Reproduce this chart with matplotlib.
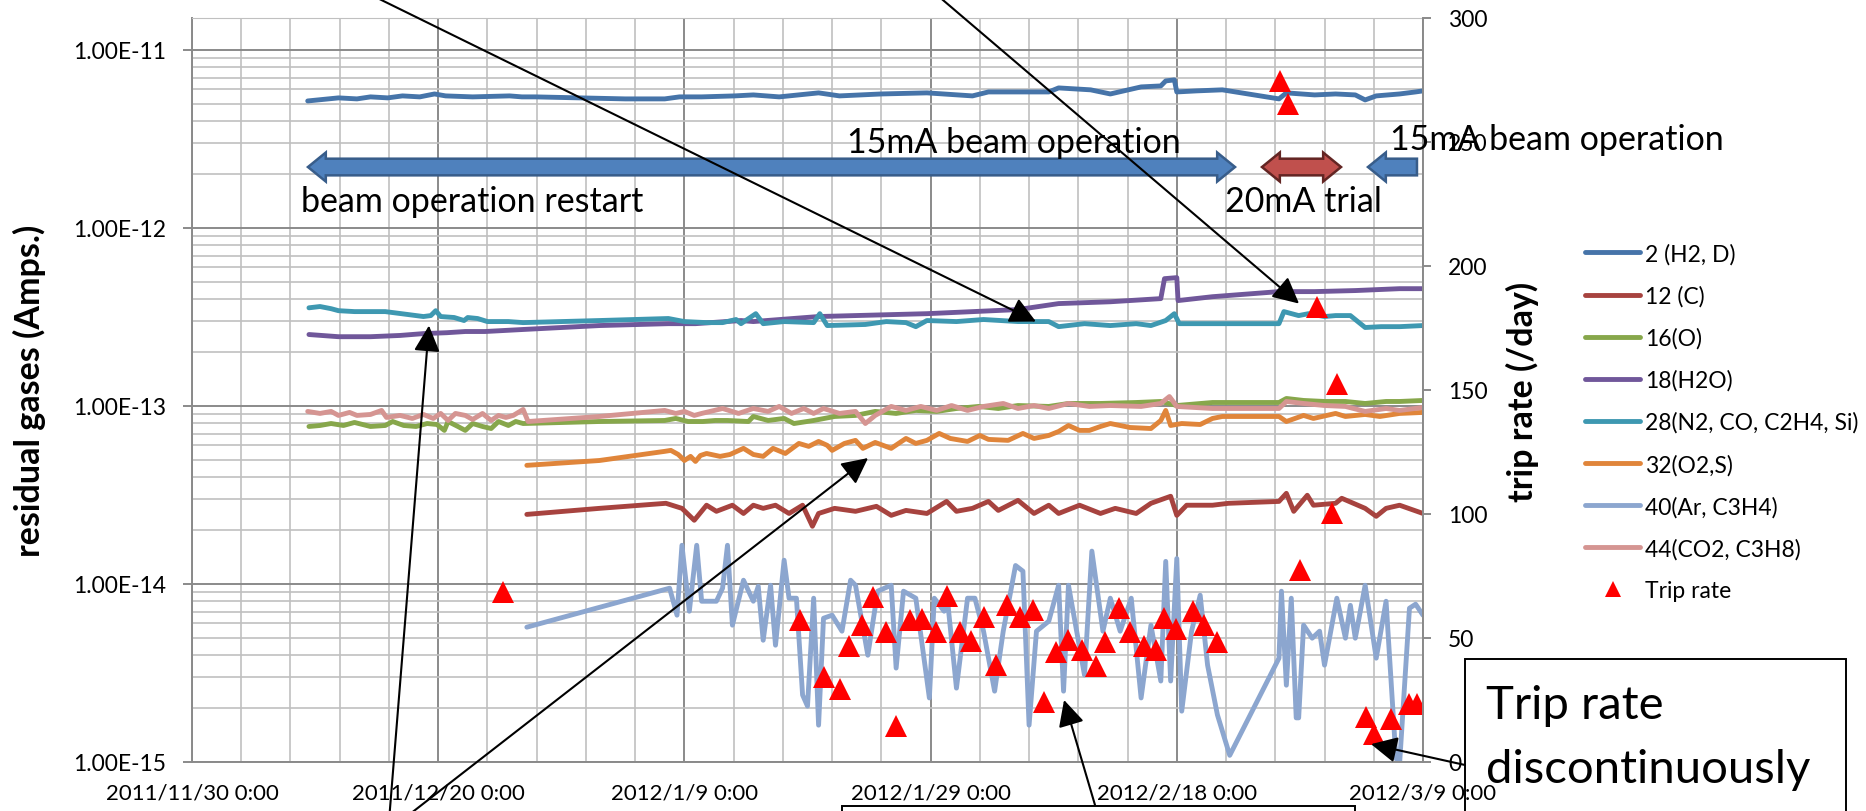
import datetime

import matplotlib
matplotlib.use("Agg")
import matplotlib.pyplot as plt
import matplotlib.dates as mdates
import matplotlib.ticker as ticker
import numpy as np
from matplotlib.lines import Line2D
from matplotlib.patches import Polygon, Rectangle

plt.rcParams['font.family'] = ['Lato', 'DejaVu Sans']

START = datetime.datetime(2011, 11, 30)

# residual gas currents, days counted from 2011/11/30 0:00
h2_days = [9.4, 11.9, 13.4, 14.5, 15.9, 17.1, 18.5, 19.7, 20.6, 22.8, 25.8, 26.8, 27.9, 31.5, 35.2, 38.4,
           39.6, 41.4, 44.1, 45.6, 47.7, 50.9, 52.6, 56.0, 59.7, 63.4, 64.7, 69.6, 70.4, 73.0, 74.6, 77.1,
           78.7, 79.1, 79.8, 80.0, 81.6, 83.7, 88.3, 88.9, 91.2, 92.9, 94.5, 95.3, 96.2, 98.1, 99.4, 100.0]
h2_pa = [5.17, 5.38, 5.31, 5.45, 5.38, 5.52, 5.45, 5.66, 5.52, 5.45, 5.52, 5.45, 5.45, 5.38, 5.31, 5.31,
         5.45, 5.45, 5.52, 5.59, 5.45, 5.74, 5.52, 5.66, 5.74, 5.52, 5.81, 5.81, 6.12, 5.97, 5.66, 6.20,
         6.28, 6.70, 6.79, 5.81, 5.89, 5.97, 5.31, 5.74, 5.59, 5.66, 5.59, 5.24, 5.52, 5.66, 5.81, 5.89]  # 1e-12 A

c_days = [27.2, 33.1, 38.5, 39.8, 40.8, 41.8, 42.6, 43.9, 44.8, 45.6, 46.4, 47.4, 48.5, 49.6, 50.4, 50.9,
          52.2, 53.9, 55.6, 56.8, 58.0, 59.7, 61.3, 62.1, 63.4, 64.7, 65.5, 67.1, 68.4, 69.6, 70.4, 72.1,
          73.8, 75.0, 76.7, 77.9, 79.5, 80.0, 80.8, 82.9, 84.2, 88.3, 88.9, 89.5, 90.6, 91.1, 92.9, 93.4,
          95.3, 96.2, 97.0, 98.1, 100.0]
c_vals = [2.46, 2.66, 2.84, 2.66, 2.28, 2.77, 2.56, 2.77, 2.49, 2.77, 2.66, 2.77, 2.49, 2.77, 2.11, 2.49,
          2.66, 2.56, 2.73, 2.43, 2.59, 2.49, 2.91, 2.56, 2.66, 2.91, 2.59, 2.95, 2.49, 2.77, 2.49, 2.77,
          2.49, 2.66, 2.49, 2.84, 3.11, 2.43, 2.77, 2.77, 2.84, 2.91, 3.23, 2.56, 3.15, 2.77, 2.84, 3.03,
          2.66, 2.40, 2.66, 2.77, 2.49]  # 1e-14 A

o_days = [9.5, 10.4, 11.3, 12.3, 13.2, 14.5, 15.7, 16.3, 17.2, 18.2, 19.1, 19.9, 20.5, 20.8, 21.6, 22.2,
          22.8, 23.6, 24.3, 24.9, 25.7, 26.3, 26.9, 33.1, 38.4, 39.3, 40.3, 41.5, 42.5, 43.5, 45.2, 45.6,
          46.8, 48.1, 48.9, 50.5, 52.2, 53.9, 55.5, 57.2, 58.8, 60.5, 62.1, 63.9, 65.5, 67.1, 69.6, 71.2,
          73.8, 76.7, 78.7, 80.0, 82.9, 88.3, 88.9, 90.3, 92.0, 93.7, 95.3, 97.0, 98.1, 100.0]
o_vals = [7.67, 7.77, 7.97, 7.77, 8.08, 7.67, 7.77, 8.18, 7.77, 7.67, 7.97, 7.87, 7.29, 8.18, 7.67, 7.29,
          7.97, 7.67, 7.47, 8.18, 7.77, 8.18, 7.97, 8.18, 8.29, 8.51, 8.18, 8.18, 8.29, 8.29, 8.18, 8.73,
          8.29, 8.51, 7.97, 8.29, 8.73, 8.85, 9.32, 9.08, 9.44, 9.32, 9.68, 9.94, 9.68, 10.06, 9.94, 10.33,
          10.33, 10.46, 10.60, 10.06, 10.46, 10.46, 11.02, 10.74, 10.60, 10.60, 10.33, 10.60, 10.60, 10.74]  # 1e-14 A

h2o_days = [9.5, 11.9, 14.5, 16.9, 18.8, 20.7, 22.2, 23.8, 26.9, 33.1, 38.7, 40.9, 44.6, 45.6, 50.9, 59.7,
            67.1, 70.4, 74.6, 78.7, 79.0, 80.0, 80.1, 82.9, 88.3, 91.2, 94.5, 98.1, 100.0]
h2o_vals = [2.52, 2.45, 2.45, 2.49, 2.55, 2.58, 2.62, 2.62, 2.69, 2.83, 2.90, 2.90, 3.02, 2.98, 3.18, 3.30,
            3.48, 3.76, 3.85, 4.01, 5.19, 5.26, 3.91, 4.11, 4.39, 4.39, 4.45, 4.56, 4.56]  # 1e-13 A

n2_days = [9.5, 10.4, 11.3, 11.9, 13.2, 15.7, 17.6, 18.8, 19.4, 19.8, 20.2, 21.3, 22.1, 22.4, 23.2, 24.0,
           25.7, 26.9, 33.1, 38.7, 40.0, 41.8, 43.1, 44.2, 44.6, 45.8, 46.4, 48.1, 50.5, 51.0, 51.6, 54.7,
           56.4, 58.0, 58.8, 59.7, 62.1, 64.3, 67.1, 69.6, 70.4, 72.5, 74.6, 76.7, 77.9, 79.1, 79.8, 80.2,
           82.9, 88.3, 88.7, 89.9, 90.7, 92.0, 92.9, 94.1, 95.3, 96.6, 98.1, 100.0]
n2_vals = [3.56, 3.62, 3.52, 3.43, 3.39, 3.39, 3.26, 3.18, 3.22, 3.43, 3.18, 3.14, 3.02, 3.14, 3.10, 2.98,
           2.98, 2.94, 3.02, 3.10, 2.98, 2.94, 2.94, 3.06, 2.90, 3.30, 2.90, 2.98, 2.94, 3.30, 2.83, 2.87,
           2.98, 2.94, 2.79, 3.02, 2.98, 3.06, 2.98, 2.98, 2.79, 2.90, 2.83, 2.90, 2.83, 3.02, 3.30, 2.90,
           2.90, 2.90, 3.39, 3.22, 3.30, 3.18, 3.22, 3.22, 2.76, 2.79, 2.79, 2.83]  # 1e-13 A

o2_days = [27.2, 33.1, 38.4, 38.9, 39.5, 40.0, 40.5, 40.9, 41.3, 41.8, 42.9, 43.7, 44.8, 45.6, 46.4, 47.2,
           48.2, 49.3, 50.1, 50.9, 51.6, 52.0, 53.0, 53.9, 54.5, 55.5, 56.8, 58.0, 58.8, 59.7, 60.7, 61.6,
           63.0, 64.0, 64.7, 66.3, 67.5, 68.4, 69.6, 70.4, 71.2, 72.1, 72.9, 73.8, 74.6, 76.2, 77.9, 78.7,
           79.1, 79.5, 80.4, 81.9, 82.9, 83.7, 88.3, 88.9, 89.6, 90.3, 91.1, 92.9, 93.7, 95.3, 96.5, 98.1,
           100.0]
o2_vals = [4.64, 4.94, 5.56, 5.63, 5.34, 4.94, 5.21, 4.88, 5.27, 5.41, 5.21, 5.34, 5.78, 5.34, 5.21, 5.78,
           5.41, 6.16, 5.93, 6.32, 6.01, 5.63, 6.16, 6.41, 5.78, 6.24, 5.78, 6.57, 6.16, 6.41, 7.01, 6.57,
           6.32, 6.83, 6.49, 6.41, 7.01, 6.57, 6.83, 7.19, 7.77, 7.29, 7.29, 7.67, 7.97, 7.57, 7.47, 8.29,
           9.44, 7.77, 7.97, 7.87, 8.51, 8.73, 8.73, 8.18, 8.51, 8.85, 8.51, 9.08, 8.73, 8.96, 8.73, 9.08,
           9.20]  # 1e-14 A

ar_days = [27.2, 38.8, 39.4, 39.8, 40.4, 41.0, 41.4, 42.6, 43.1, 43.5, 43.9, 44.8, 45.6, 46.0, 46.4, 47.0,
           47.4, 48.1, 48.5, 49.1, 49.6, 50.0, 50.5, 50.9, 51.3, 52.0, 52.8, 53.5, 53.9, 54.9, 55.7, 56.8,
           57.2, 57.8, 58.8, 59.9, 60.3, 61.1, 61.3, 62.1, 63.0, 63.6, 64.3, 65.2, 65.9, 66.9, 67.5, 68.0,
           68.6, 69.6, 70.4, 70.8, 71.2, 72.5, 73.1, 74.0, 74.6, 75.4, 76.3, 77.1, 77.9, 78.7, 79.1, 79.5,
           80.0, 80.4, 81.2, 81.9, 82.5, 83.3, 84.3, 88.3, 88.5, 88.9, 89.3, 89.7, 89.9, 90.3, 91.0, 91.6,
           92.0, 93.0, 93.7, 94.1, 94.5, 95.3, 96.2, 97.0, 97.8, 98.1, 98.9, 99.4, 100.0]
ar_vals = [5.72, 9.47, 6.68, 16.5, 7.03, 16.5, 8.00, 8.00, 9.47, 16.5, 5.87, 10.5, 8.00, 9.71, 4.83, 9.84,
           4.53, 13.6, 8.32, 8.32, 2.38, 2.06, 8.32, 1.61, 6.42, 6.68, 5.43, 10.5, 9.84, 3.98, 9.11, 9.84,
           3.37, 9.11, 8.32, 2.29, 8.32, 7.03, 9.11, 2.60, 8.32, 8.32, 5.43, 2.50, 5.43, 12.7, 11.8, 1.61,
           5.43, 6.18, 9.84, 2.50, 9.84, 3.08, 15.3, 5.43, 8.32, 5.43, 8.32, 2.29, 5.87, 2.85, 13.4, 2.85,
           13.9, 1.93, 5.43, 8.65, 3.50, 1.84, 1.09, 3.83, 9.11, 2.70, 8.32, 1.77, 1.77, 5.87, 4.96, 5.43,
           3.50, 8.32, 4.96, 7.59, 4.96, 9.84, 3.83, 8.00, 1.05, 0.98, 7.31, 7.70, 6.68]  # 1e-15 A

co2_days = [9.4, 10.4, 11.3, 11.9, 12.8, 13.4, 14.5, 15.4, 15.8, 16.9, 17.9, 18.8, 19.6, 20.2, 20.8, 21.4,
            22.2, 22.8, 23.6, 24.3, 24.9, 25.5, 26.1, 26.9, 27.3, 33.1, 38.4, 39.3, 40.0, 40.8, 41.4, 43.1,
            44.4, 45.6, 46.8, 47.7, 48.7, 49.7, 50.5, 51.3, 52.6, 53.9, 54.7, 55.5, 56.8, 58.0, 59.2, 60.5,
            61.7, 63.0, 64.3, 65.9, 67.1, 68.4, 69.6, 71.2, 72.9, 74.6, 77.1, 78.7, 79.4, 80.0, 82.9, 88.3,
            88.9, 90.3, 92.0, 93.7, 95.3, 97.0, 98.1, 100.0]
co2_vals = [9.32, 9.08, 9.32, 8.85, 9.20, 8.85, 8.96, 9.44, 8.62, 8.85, 8.51, 8.96, 8.51, 9.08, 8.29, 9.08,
            8.85, 8.40, 9.08, 8.29, 8.85, 8.62, 8.85, 9.56, 8.18, 8.73, 9.44, 9.08, 9.32, 8.85, 9.08, 9.68,
            9.08, 9.68, 9.32, 9.94, 9.08, 9.68, 9.08, 9.68, 9.08, 9.32, 7.97, 8.85, 9.94, 9.44, 9.94, 9.44,
            10.06, 9.44, 9.94, 10.33, 9.68, 10.06, 9.68, 10.33, 9.94, 10.06, 9.94, 10.33, 11.30, 9.94, 9.68, 9.68,
            10.60, 10.33, 10.06, 9.94, 9.32, 9.68, 9.44, 9.81]  # 1e-14 A

# beam trips per day
trip_days = [25.3, 49.4, 51.3, 52.6, 53.4, 54.4, 55.3, 56.4, 57.2, 58.3, 59.3, 60.4, 61.3, 62.4, 63.3, 64.3,
             65.3, 66.2, 67.3, 68.3, 69.2, 70.2, 71.2, 72.3, 73.4, 74.2, 75.3, 76.2, 77.3, 78.3, 79.0, 79.9,
             81.3, 82.2, 83.3, 88.4, 89.0, 90.0, 91.4, 92.6, 93.0, 95.4, 96.0, 97.4, 98.9, 99.5]
trip_rate = [68.5, 57.3, 34.3, 29.4, 46.8, 55.2, 66.5, 52.4, 14.5, 57.3, 57.7, 52.4, 66.9, 52.4, 48.8, 58.5,
             39.1, 63.3, 58.5, 61.3, 24.2, 44.4, 49.2, 45.2, 38.7, 48.4, 62.1, 52.4, 46.8, 45.2, 58.1, 53.6,
             60.9, 55.2, 48.4, 274.6, 265.3, 77.4, 183.5, 100.4, 152.4, 18.1, 11.3, 17.3, 23.4, 23.4]

series = [
    ("2 (H2, D)", h2_days, h2_pa, 1e-12, "#4674A9"),
    ("12 (C)", c_days, c_vals, 1e-14, "#A7433F"),
    ("16(O)", o_days, o_vals, 1e-14, "#87A74B"),
    ("18(H2O)", h2o_days, h2o_vals, 1e-13, "#70579A"),
    ("28(N2, CO, C2H4, Si)", n2_days, n2_vals, 1e-13, "#3E98B1"),
    ("32(O2,S)", o2_days, o2_vals, 1e-14, "#E0853A"),
    ("40(Ar, C3H4)", ar_days, ar_vals, 1e-15, "#8CA6CF"),
    ("44(CO2, C3H8)", co2_days, co2_vals, 1e-14, "#D59592"),
]

W, H = 1866, 812
BASE = mdates.date2num(START)


def fig_xy(px, py):
    # figure pixels measured from the top-left corner -> figure fraction
    return px / W, 1 - py / H


def to_num(days):
    return BASE + np.asarray(days, dtype=float)


def block_arrow(ax, d0, d1, y, color, edge, both=True):
    x0, x1 = BASE + d0, BASE + d1
    s, hw, hl = 0.0112, 0.0195, 1.45
    if both:
        pts = [(x0, y), (x0 + hl, y + hw), (x0 + hl, y + s), (x1 - hl, y + s), (x1 - hl, y + hw),
               (x1, y), (x1 - hl, y - hw), (x1 - hl, y - s), (x0 + hl, y - s), (x0 + hl, y - hw)]
    else:
        pts = [(x0, y), (x0 + hl, y + hw), (x0 + hl, y + s), (x1, y + s),
               (x1, y - s), (x0 + hl, y - s), (x0 + hl, y - hw)]
    ax.add_patch(Polygon(pts, closed=True, transform=ax.get_xaxis_transform(), facecolor=color,
                         edgecolor=edge, linewidth=1.8, joinstyle='miter', clip_on=False, zorder=5))


def date_label(v, pos):
    d = mdates.num2date(v)
    return f"{d.year}/{d.month}/{d.day} {d.hour}:{d.minute:02d}"


fig = plt.figure(figsize=(W / 100, H / 100), dpi=100)
ax = fig.add_axes([192 / W, (H - 763) / H, (1423 - 192) / W, 744 / H])
ax2 = ax.twinx()

handles = []
for label, days, vals, unit, color in series:
    line, = ax.plot(to_num(days), np.asarray(vals) * unit, color=color, lw=3.5,
                    solid_joinstyle='round', solid_capstyle='round', label=label)
    handles.append(line)

ax.set_yscale('log')
ax.set_ylim(1e-15, 10 ** (-11 + 32 / 178.25))
ax.set_xlim(BASE, BASE + 100)

ax.yaxis.set_major_locator(ticker.FixedLocator([1e-15, 1e-14, 1e-13, 1e-12, 1e-11]))
ax.yaxis.set_major_formatter(ticker.FuncFormatter(lambda v, pos: f"{v:.2E}"))
ax.yaxis.set_minor_locator(ticker.LogLocator(base=10, subs=np.arange(2, 10)))
ax.yaxis.set_minor_formatter(ticker.NullFormatter())
ax.xaxis.set_major_locator(ticker.FixedLocator(BASE + np.arange(0, 101, 20)))
ax.xaxis.set_minor_locator(ticker.FixedLocator(BASE + np.arange(0, 101, 4)))
ax.xaxis.set_major_formatter(ticker.FuncFormatter(date_label))

ax.grid(which='minor', color='#C0C0C0', lw=1.2, zorder=0)
ax.grid(which='major', color='#8A8A8A', lw=1.4, zorder=0)
ax.set_axisbelow(True)

ax.tick_params(axis='y', which='major', direction='out', length=6.5, width=1.4, color='#8A8A8A',
               pad=12.5, labelsize=16.5)
ax.tick_params(axis='y', which='minor', length=0)
ax.tick_params(axis='x', which='both', length=0, pad=15, labelsize=16)
for side in ('left', 'bottom'):
    ax.spines[side].set_color('#8A8A8A')
    ax.spines[side].set_linewidth(1.4)
ax.spines['top'].set_color('#C0C0C0')
ax.spines['right'].set_visible(False)

# trip rate on the secondary axis
tri, = ax2.plot(to_num(trip_days), trip_rate, linestyle='none', marker='^', ms=16.5,
                color='#FF0000', markeredgewidth=0)
ax2.set_ylim(0, 300)
ax2.yaxis.set_major_locator(ticker.MultipleLocator(50))
ax2.tick_params(axis='y', direction='out', length=6, width=1.4, color='#8A8A8A', pad=12, labelsize=16.5)
for side in ('left', 'top', 'bottom'):
    ax2.spines[side].set_visible(False)
ax2.spines['right'].set_color('#8A8A8A')
ax2.spines['right'].set_linewidth(1.4)

fig.text(*fig_xy(29, 391), "residual gases (Amps.)", rotation=90, ha='center', va='center',
         fontsize=24.5, fontweight='bold')
fig.text(*fig_xy(1522, 392), "trip rate (/day)", rotation=90, ha='center', va='center',
         fontsize=24.5, fontweight='bold')

legend_handles = handles + [Line2D([], [], linestyle='none', marker='^', ms=11, color='#FF0000',
                                   markeredgewidth=0)]
legend_labels = [s[0] for s in series] + ["Trip rate"]
fig.legend(legend_handles, legend_labels, loc='upper left', bbox_to_anchor=fig_xy(1585, 244),
           frameon=False, fontsize=16.5, handlelength=2.4, handletextpad=0.22, labelspacing=0.9,
           borderpad=0, borderaxespad=0)

# operation periods
block_arrow(ax2, 9.42, 84.73, 0.7997, '#4F81BD', '#385D8A')
block_arrow(ax2, 86.92, 93.34, 0.7997, '#C0504D', '#632523')
block_arrow(ax2, 95.53, 99.51, 0.7997, '#4F81BD', '#385D8A', both=False)

tx = ax2.get_xaxis_transform()
ax2.text(BASE + 66.8, 0.8199, "15mA beam operation", transform=tx, ha='center', va='baseline',
         fontsize=24.5, zorder=6)
ax2.text(BASE + 8.85, 0.7406, "beam operation restart", transform=tx, ha='left', va='baseline',
         fontsize=24.5, zorder=6)
ax2.text(BASE + 83.9, 0.7406, "20mA trial", transform=tx, ha='left', va='baseline',
         fontsize=24.5, zorder=6)
ax2.text(BASE + 97.3, 0.824, "15mA beam operation", transform=tx, ha='left', va='baseline',
         fontsize=24.5, zorder=6, clip_on=False)

# pointer arrows: tip on the gas curves, tail at the figure edge / call-out boxes
pointers = [
    ((68.56, 2.98e-13), fig_xy(359, -10)),
    ((89.93, 3.76e-13), fig_xy(930, -10)),
    ((19.25, 2.83e-13), fig_xy(389, 822)),
    ((54.92, 5.10e-14), fig_xy(401, 822)),
    ((70.84, 2.23e-15), fig_xy(1095, 806)),
    ((95.78, 1.26e-15), fig_xy(1465, 766)),
]
for (d, v), tail in pointers:
    ax2.annotate('', xy=(BASE + d, v), xycoords=ax.transData, xytext=tail, textcoords='figure fraction',
                 arrowprops=dict(arrowstyle='-|>', color='black', lw=1.5, mutation_scale=40,
                                 shrinkA=0, shrinkB=0),
                 annotation_clip=False, zorder=7)

# call-out boxes at the bottom edge
x0, y0 = fig_xy(842, 807)
fig.add_artist(Rectangle((x0, y0 - 0.2), (1355 - 842) / W, 0.2, transform=fig.transFigure,
                         facecolor='none', edgecolor='black', lw=1.4))
x0, y0 = fig_xy(1465, 660)
fig.add_artist(Rectangle((x0, y0 - 0.3), (1846 - 1465) / W, 0.3, transform=fig.transFigure,
                         facecolor='none', edgecolor='black', lw=1.4))
fig.text(*fig_xy(1486, 719), "Trip rate", ha='left', va='baseline', fontsize=34)
fig.text(*fig_xy(1486, 783), "discontinuously", ha='left', va='baseline', fontsize=34)

fig.savefig("out.png", dpi=100)
